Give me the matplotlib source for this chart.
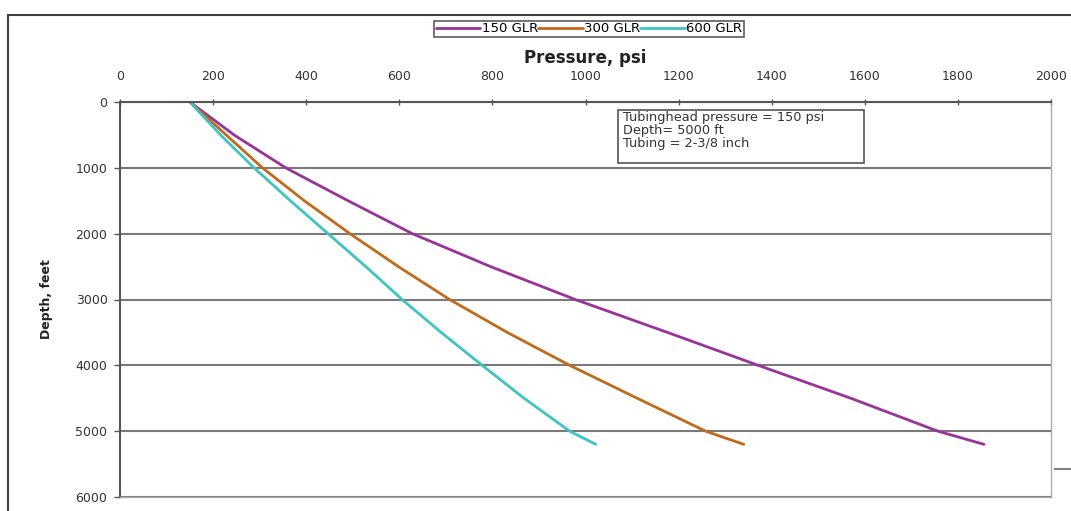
import matplotlib
matplotlib.use("Agg")
import matplotlib.pyplot as plt
from matplotlib.patches import Rectangle
from matplotlib.lines import Line2D

# ---- data ----
depth = [0, 500, 1000, 1500, 2000, 2500, 3000, 3500, 4000, 4500, 5000, 5200]
glr150 = [150, 245, 356, 490, 628, 796, 978, 1176, 1371, 1570, 1757, 1856]
glr300 = [150, 228, 306, 396, 494, 598, 708, 832, 966, 1111, 1258, 1340]
glr600 = [150, 216, 288, 366, 447, 528, 606, 690, 778, 868, 966, 1022]
series_labels = ["150 GLR", "300 GLR", "600 GLR"]
x_ticks = [0, 200, 400, 600, 800, 1000, 1200, 1400, 1600, 1800, 2000]
y_ticks = [0, 1000, 2000, 3000, 4000, 5000, 6000]
note = "Tubinghead pressure = 150 psi\nDepth= 5000 ft\nTubing = 2-3/8 inch"

W, H = 1071, 511
fig = plt.figure(figsize=(W / 100, H / 100), dpi=100)
fig.patch.set_facecolor("white")

def fx(px):
    return px / W

def fy(py):
    return 1 - py / H

# outer chart frame
fig.patches.append(Rectangle((fx(8), fy(520)), fx(1080) - fx(8), fy(15) - fy(520),
                             transform=fig.transFigure, fill=False,
                             edgecolor="#404040", linewidth=1.5))
# stray tick at right
fig.lines.append(Line2D([fx(1055), fx(1071)], [fy(469), fy(469)],
                        transform=fig.transFigure, color="#808080", linewidth=1.5))

left, right, top, bottom = 120, 1051, 102, 497
ax = fig.add_axes([fx(left), fy(bottom), fx(right) - fx(left), fy(top) - fy(bottom)])

colors = ["#993399", "#C06A1A", "#3FC4C4"]
for vals, c, lab in zip([glr150, glr300, glr600], colors, series_labels):
    ax.plot(vals, depth, color=c, linewidth=2.0, label=lab,
            solid_capstyle="round", solid_joinstyle="round")

ax.set_xlim(0, 2000)
ax.set_ylim(6000, 0)
ax.xaxis.tick_top()
ax.xaxis.set_label_position("top")
ax.set_xticks(x_ticks)
ax.set_yticks(y_ticks)
ax.set_xticklabels([str(v) for v in x_ticks])
ax.set_yticklabels([str(v) for v in y_ticks])
ax.tick_params(axis="x", direction="inout", length=5, width=1, colors="#555555",
               labelsize=9, labelcolor="#333333", pad=11)
ax.tick_params(axis="y", direction="out", length=4, width=1, colors="#555555",
               labelsize=9, labelcolor="#333333", pad=5)
ax.yaxis.grid(True, color="#7a7a7a", linewidth=1.5)
ax.set_axisbelow(True)
for s in ["top", "left"]:
    ax.spines[s].set_color("#555555")
    ax.spines[s].set_linewidth(1.5)
for s in ["right", "bottom"]:
    ax.spines[s].set_color("#aaaaaa")
    ax.spines[s].set_linewidth(1.0)

ax.set_xlabel("Pressure, psi", fontsize=12, fontweight="bold", color="#222222", labelpad=5)
ax.set_ylabel("Depth, feet", fontsize=9, fontweight="bold", color="#222222", labelpad=16)

# note box
fig.patches.append(Rectangle((fx(618), fy(163)), fx(864) - fx(618), fy(110) - fy(163),
                             transform=fig.transFigure, facecolor="white",
                             edgecolor="#555555", linewidth=1.2, zorder=5))
fig.text(fx(623), fy(111), note, fontsize=9.3, va="top", ha="left",
         color="#333333", linespacing=0.98, zorder=6)

handles, labels = ax.get_legend_handles_labels()
leg = fig.legend(handles, labels, loc="center", bbox_to_anchor=(fx(589), fy(29)),
                 ncol=3, fontsize=9.5, frameon=True, fancybox=False,
                 handlelength=3.4, handletextpad=0.1, columnspacing=0.0,
                 borderpad=0.15, borderaxespad=0)
leg.get_frame().set_edgecolor("#333333")
leg.get_frame().set_linewidth(1.2)

fig.savefig("out.png", dpi=100)
